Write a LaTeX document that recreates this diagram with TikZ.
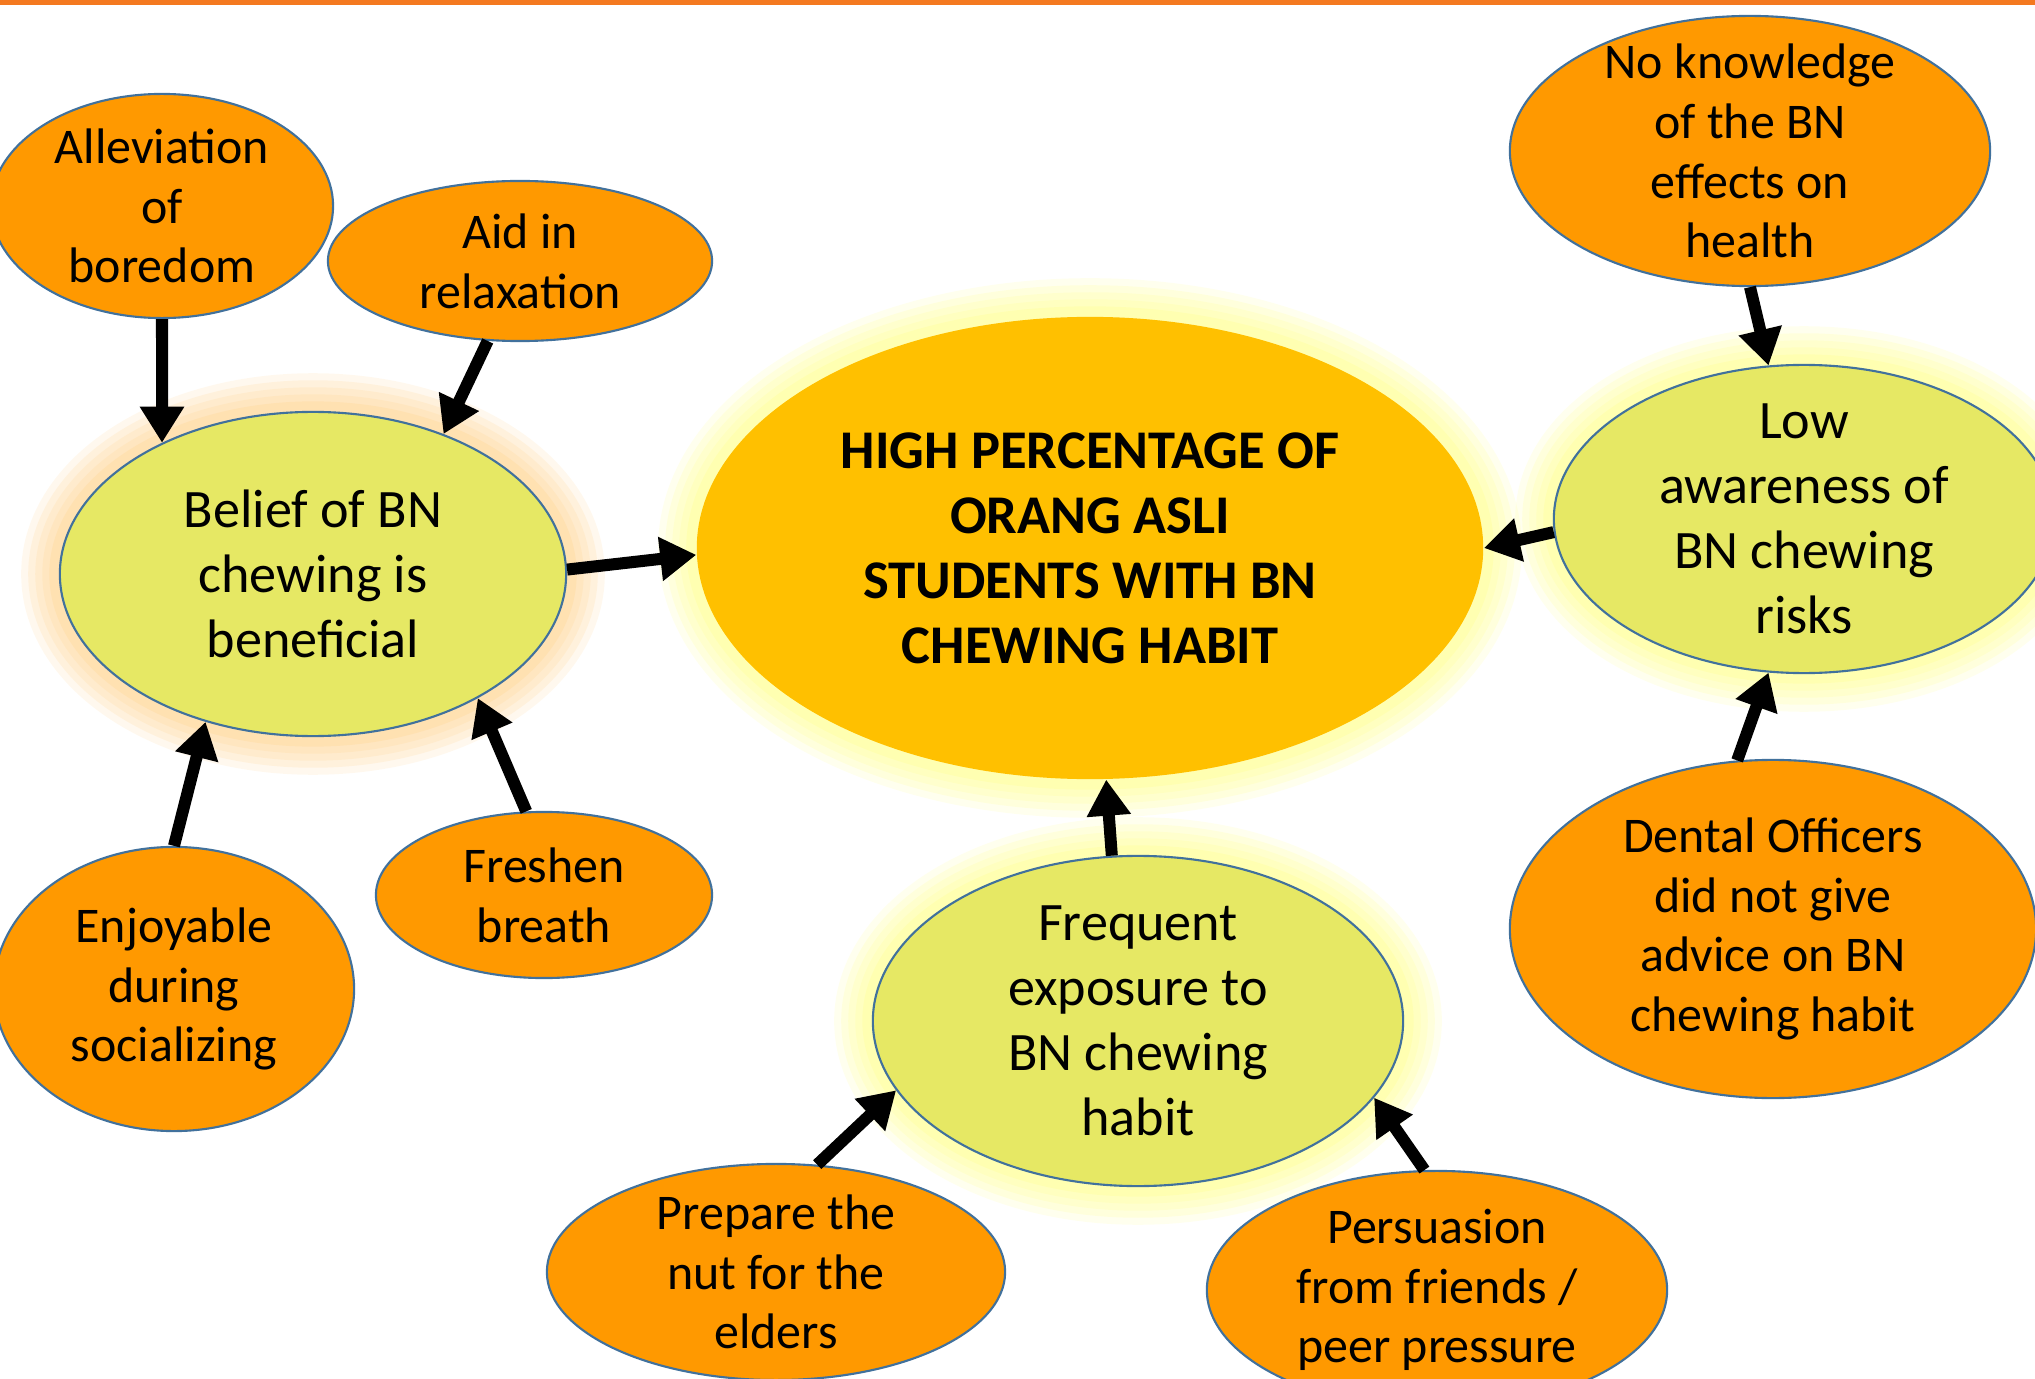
\documentclass[tikz,border=0pt]{standalone}
\usepackage{fontspec}
\setmainfont{Carlito}
\usepackage{xcolor}
\definecolor{colorl}{RGB}{244,121,32}
\definecolor{coloro}{RGB}{255,153,0}
\definecolor{colorg}{RGB}{230,232,100}
\definecolor{colorc}{RGB}{255,192,0}
\definecolor{colorb}{RGB}{65,113,156}
\definecolor{colory}{RGB}{255,255,120}
\definecolor{colorp}{RGB}{255,205,120}
\usepackage{tikz}
\usetikzlibrary{shapes.geometric,arrows.meta}
\tikzset{glow/.style={preaction={draw=#1,line width=22pt,opacity=0.12},
    preaction={draw=#1,line width=18pt,opacity=0.15},
    preaction={draw=#1,line width=14pt,opacity=0.15},
    preaction={draw=#1,line width=10pt,opacity=0.15},
    preaction={draw=#1,line width=6pt,opacity=0.2}}}
\tikzstyle{blockO} = [ellipse, fill=coloro, draw=colorb, line width=0.6pt, inner xsep=0pt, inner ysep=-0.3cm, align=center, font=\fontsize{14.2}{17}\selectfont]
\tikzstyle{blockG} = [ellipse, fill=colorg, draw=colorb, line width=0.6pt, inner xsep=0pt, inner ysep=-0.3cm, align=center, font=\fontsize{15.4}{18.5}\selectfont]
\tikzstyle{blockC} = [ellipse, fill=colorc, inner xsep=0pt, inner ysep=-0.3cm, align=center, font=\bfseries\fontsize{15.5}{18.5}\selectfont, glow=colory]
\tikzstyle{arr} = [-{Triangle[length=0.36cm,width=0.42cm]}, line width=0.12cm, black]

\begin{document}
\begin{tikzpicture}[x=0.01cm,y=-0.01cm]

  \fill[white] (0,0) rectangle (2035,1379);
  \useasboundingbox (0,0) rectangle (2035,1379);
  \fill[colorl] (0,0) rectangle (2035,5);

  % centre
  \node[blockC, minimum width=7.86cm, minimum height=4.62cm] (high) at (1090,548)
    {HIGH PERCENTAGE OF\\ORANG ASLI\\STUDENTS WITH BN\\CHEWING HABIT};

  % three causes
  \node[blockG, glow=colorp, minimum width=5.06cm, minimum height=3.24cm] (belief) at (313,574)
    {Belief of BN\\chewing is\\beneficial};
  \node[blockG, glow=colory, minimum width=5.00cm, minimum height=3.08cm] (low) at (1804,519)
    {Low\\awareness of\\BN chewing\\risks};
  \node[blockG, glow=colory, minimum width=5.30cm, minimum height=3.30cm] (freq) at (1138,1021)
    {Frequent\\exposure to\\BN chewing\\habit};

  % reasons
  \node[blockO, minimum width=3.42cm, minimum height=2.24cm] (bored) at (162,206) {Alleviation\\of\\boredom};
  \node[blockO, minimum width=3.84cm, minimum height=1.60cm] (relax) at (520,261) {Aid in\\relaxation};
  \node[blockO, minimum width=3.60cm, minimum height=2.84cm] (social) at (174,989) {Enjoyable\\during\\socializing};
  \node[blockO, minimum width=3.36cm, minimum height=1.66cm] (breath) at (544,895) {Freshen\\breath};
  \node[blockO, minimum width=4.80cm, minimum height=2.70cm] (noknow) at (1750,151) {No knowledge\\of the BN\\effects on\\health};
  \node[blockO, minimum width=5.26cm, minimum height=3.38cm] (dental) at (1773,929) {Dental Officers\\did not give\\advice on BN\\chewing habit};
  \node[blockO, minimum width=4.58cm, minimum height=2.16cm] (elders) at (776,1272) {Prepare the\\nut for the\\elders};
  \node[blockO, minimum width=4.60cm, minimum height=2.38cm] (peer) at (1437,1290) {Persuasion\\from friends /\\peer pressure};

  \draw[arr] (bored.-90) -- (belief.139);
  \draw[arr] (relax.-112) -- (belief.47);
  \draw[arr] (social.90) -- (belief.-126);
  \draw[arr] (breath.102) -- (belief.-37);
  \draw[arr] (belief.1.5) -- (high.181);

  \draw[arr] (noknow.-90) -- (low.103);
  \draw[arr] (dental.102) -- (low.-103);
  \draw[arr] (low.183) -- (high.0);

  \draw[arr] (elders.69) -- (freq.-164);
  \draw[arr] (peer.96) -- (freq.-18);
  \draw[arr] (freq.99) -- (high.-86);
\end{tikzpicture}
\end{document}
